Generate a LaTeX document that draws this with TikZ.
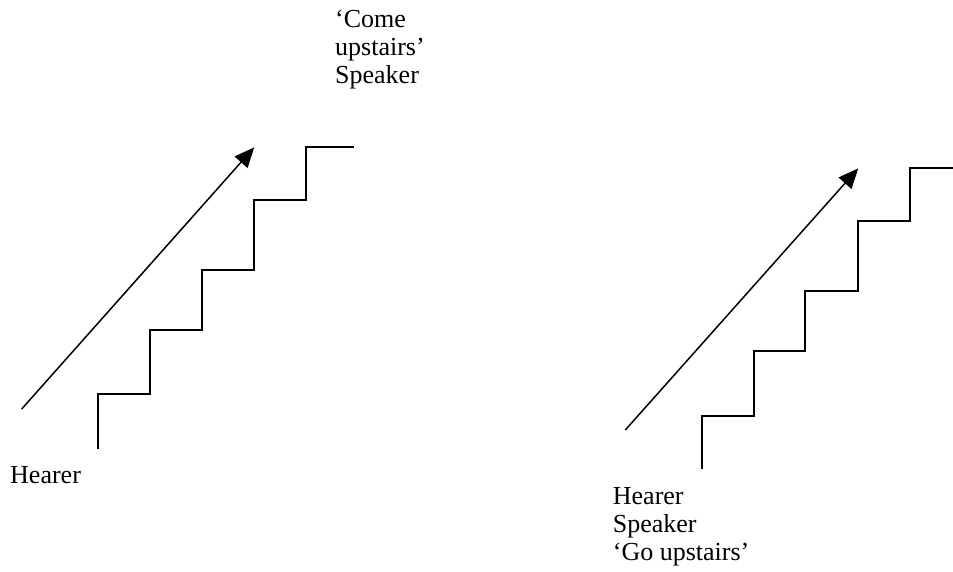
\documentclass[tikz,border=0pt]{standalone}
\usepackage{fontspec}
\setmainfont{Liberation Serif}
\usetikzlibrary{arrows.meta}
\tikzset{
  stair/.style={line width=2pt, line join=miter},
  motion/.style={line width=1.5pt, -{Triangle[length=20pt,width=17pt]}},
  lbl/.style={anchor=north west, inner sep=0pt, align=left, font=\fontsize{26}{27.8}\selectfont}
}
\begin{document}
\begin{tikzpicture}[x=1pt,y=-1pt]
\useasboundingbox (0,0) rectangle (953,571);
% left scene
\coordinate (a1s) at (21.7,409);
\coordinate (a1e) at (254.3,147.3);
\draw[motion] (a1s) -- (a1e);
\draw[stair] (97.7,449) -- (97.7,394) -- (150,394) -- (150,330) -- (201.7,330) -- (201.7,270) -- (254,270) -- (254,200) -- (306,200) -- (306,147) -- (354,147);
\node[lbl] (h1) at (10,466.5) {Hearer};
\node[lbl] (s1) at (335,10) {‘Come\\upstairs’\\Speaker};
% right scene
\coordinate (a2s) at (625.3,430);
\coordinate (a2e) at (858.3,168.3);
\draw[motion] (a2s) -- (a2e);
\draw[stair] (701.7,469) -- (701.7,415.7) -- (753.7,415.7) -- (753.7,351.3) -- (805.3,351.3) -- (805.3,291) -- (857.7,291) -- (857.7,221) -- (910,221) -- (910,167.7) -- (953,167.7);
\node[lbl] (h2) at (612.7,487.5) {Hearer\\Speaker\\‘Go upstairs’};
\end{tikzpicture}
\end{document}
